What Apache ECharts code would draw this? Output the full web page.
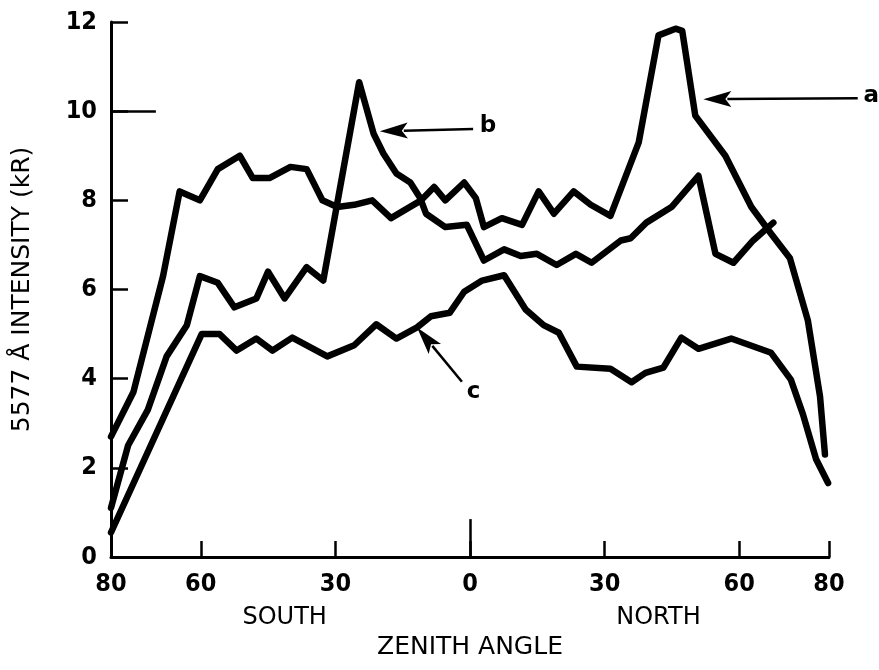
<!DOCTYPE html>
<html>
<head>
<meta charset="utf-8">
<script src="https://cdn.jsdelivr.net/npm/echarts@6/dist/echarts.min.js"></script>
<style>
  html, body { margin: 0; background: #fff; }
  #chart { width: 879px; height: 670px; }
</style>
</head>
<body>
<div id="chart"></div>
<script>
// zenith angle in degrees: negative = south, positive = north
// intensity of the 5577 A line in kR
const anglesA = [-80, -75, -68.4, -64.7, -60.2, -56.2, -51.3, -48.4, -44.7, -40, -36.4, -32.9, -29.6, -25.8, -21.8, -17.6, -10.9, -8, -5.5, -1.3, 1.3, 3.1, 7.1, 11.6, 15.3, 18.7, 23.1, 26.9, 31.3, 37.6, 42, 45.8, 47.3, 50.2, 56.9, 62.7, 67.1, 71.3, 75.3, 78, 79.1];
const intensityA = [2.7, 3.7, 6.3, 8.2, 8.0, 8.7, 9.0, 8.5, 8.5, 8.75, 8.7, 8.0, 7.85, 7.9, 8.0, 7.6, 8.0, 8.3, 8.0, 8.4, 8.05, 7.4, 7.6, 7.45, 8.2, 7.7, 8.2, 7.9, 7.65, 9.3, 11.7, 11.85, 11.8, 9.9, 9.0, 7.85, 7.25, 6.7, 5.3, 3.6, 2.3];

const anglesB = [-80, -76.2, -71.8, -67.6, -63.1, -60.2, -56.2, -52.5, -47.6, -45, -41.3, -36.4, -32.7, -24.7, -21.5, -19.3, -16.4, -13.3, -11.1, -9.8, -5.5, -0.7, 3.1, 7.6, 11.3, 14.9, 19.3, 23.6, 27.1, 33.6, 35.8, 39.3, 44.9, 50.9, 54.7, 58.7, 63.1, 67.6];
const intensityB = [1.1, 2.5, 3.3, 4.5, 5.2, 6.3, 6.15, 5.6, 5.8, 6.4, 5.8, 6.5, 6.2, 10.65, 9.5, 9.05, 8.6, 8.4, 8.05, 7.7, 7.4, 7.45, 6.65, 6.9, 6.75, 6.8, 6.55, 6.8, 6.6, 7.1, 7.15, 7.5, 7.85, 8.55, 6.8, 6.6, 7.1, 7.5];

const anglesC = [-80, -59.8, -55.8, -52, -47.6, -44, -39.6, -31.8, -25.8, -20.9, -16.4, -11.8, -8.7, -4.5, -1.3, 2.7, 7.6, 12.4, 16.4, 19.8, 23.8, 31.3, 36, 39.1, 43.1, 47.1, 50.9, 58.2, 67.1, 71.5, 74.2, 77.1, 79.8];
const intensityC = [0.55, 5.0, 5.0, 4.63, 4.9, 4.63, 4.92, 4.5, 4.75, 5.22, 4.9, 5.15, 5.4, 5.48, 5.95, 6.2, 6.32, 5.55, 5.2, 5.03, 4.27, 4.22, 3.92, 4.13, 4.25, 4.92, 4.67, 4.9, 4.58, 3.98, 3.2, 2.2, 1.66];

const angleTicks = [-80, -60, -30, 0, 30, 60, 80];

// curve callouts: arrow tip, arrow tail, letter (all in axis units)
const callouts = [
  { name: 'a', tip: [52, 10.27], tail: [86.4, 10.29], at: [89.4, 10.33] },
  { name: 'b', tip: [-20.1, 9.55], tail: [0.7, 9.6], at: [4.0, 9.66] },
  { name: 'c', tip: [-11.8, 5.15], tail: [-1.8, 3.93], at: [0.8, 3.7] }
];

const zip = (xs, ys) => xs.map((x, i) => [x, ys[i]]);

const numFont = {
  color: '#000',
  fontFamily: '"Liberation Sans Narrow", "DejaVu Sans Condensed", sans-serif',
  fontWeight: 'bold',
  fontSize: 25
};
const wordFont = '"DejaVu Sans", sans-serif';

const curve = (name, xs, ys) => ({
  name: name,
  type: 'line',
  data: zip(xs, ys),
  symbol: 'none',
  silent: true,
  lineStyle: { color: '#000', width: 6.5, join: 'round', cap: 'round' }
});

const chart = echarts.init(document.getElementById('chart'));

const seriesA = curve('a', anglesA, intensityA);
// the long tick at 10 kR and the taller tick at 0 deg
seriesA.markLine = {
  silent: true,
  symbol: 'none',
  label: { show: false },
  lineStyle: { color: '#000', width: 2.5, type: 'solid' },
  data: [
    [{ coord: [-80, 10] }, { coord: [-70, 10] }],
    [{ coord: [0, 0] }, { coord: [0, 0.85] }]
  ]
};

chart.setOption({
  animation: false,
  backgroundColor: '#fff',
  grid: { left: 111, right: 50, top: 22, bottom: 113 },
  xAxis: {
    type: 'value',
    min: -80,
    max: 80,
    name: 'ZENITH ANGLE',
    nameLocation: 'middle',
    nameGap: 78,
    nameTextStyle: { color: '#000', fontFamily: wordFont, fontSize: 25 },
    splitLine: { show: false },
    axisLine: { lineStyle: { color: '#000', width: 3 } },
    axisTick: { inside: true, length: 16, customValues: angleTicks, lineStyle: { color: '#000', width: 2.5 } },
    axisLabel: Object.assign({ margin: 15, customValues: angleTicks, formatter: v => String(Math.abs(v)) }, numFont)
  },
  yAxis: {
    type: 'value',
    min: 0,
    max: 12,
    interval: 2,
    name: '5577 Å INTENSITY (kR)',
    nameLocation: 'middle',
    nameRotate: 90,
    nameGap: 76,
    nameTextStyle: { color: '#000', fontFamily: wordFont, fontSize: 25 },
    splitLine: { show: false },
    axisLine: { onZero: false, lineStyle: { color: '#000', width: 3 } },
    axisTick: { inside: true, length: 17, lineStyle: { color: '#000', width: 2.5 } },
    axisLabel: Object.assign({ margin: 14 }, numFont)
  },
  series: [
    seriesA,
    curve('b', anglesB, intensityB),
    curve('c', anglesC, intensityC)
  ]
});

function drawNotes() {
  const px = p => chart.convertToPixel({ gridIndex: 0 }, p);
  const els = [];
  callouts.forEach(c => {
    const tip = px(c.tip);
    const tail = px(c.tail);
    const at = px(c.at);
    const dx = tail[0] - tip[0];
    const dy = tail[1] - tip[1];
    const len = Math.hypot(dx, dy);
    const ux = dx / len, uy = dy / len;
    const hl = 28, hw = 8;
    const base = [tip[0] + ux * hl, tip[1] + uy * hl];
    els.push({
      type: 'line',
      shape: { x1: base[0] - ux * 4, y1: base[1] - uy * 4, x2: tail[0], y2: tail[1] },
      style: { stroke: '#000', lineWidth: 2.5 }
    });
    els.push({
      type: 'polygon',
      shape: { points: [tip, [base[0] - uy * hw, base[1] + ux * hw], [base[0] - ux * 6, base[1] - uy * 6], [base[0] + uy * hw, base[1] - ux * hw]] },
      style: { fill: '#000' }
    });
    els.push({
      type: 'text',
      x: at[0],
      y: at[1],
      style: { text: c.name, font: 'bold 23px ' + wordFont, fill: '#000', align: 'center', verticalAlign: 'middle' }
    });
  });
  // hemisphere captions under the angle labels
  [['SOUTH', -41.3], ['NORTH', 42]].forEach(([t, a]) => {
    const p = px([a, 0]);
    els.push({
      type: 'text',
      x: p[0],
      y: p[1] + 61,
      style: { text: t, font: '24px ' + wordFont, fill: '#000', align: 'center', verticalAlign: 'middle' }
    });
  });
  chart.setOption({ graphic: els });
}

drawNotes();
</script>
</body>
</html>
